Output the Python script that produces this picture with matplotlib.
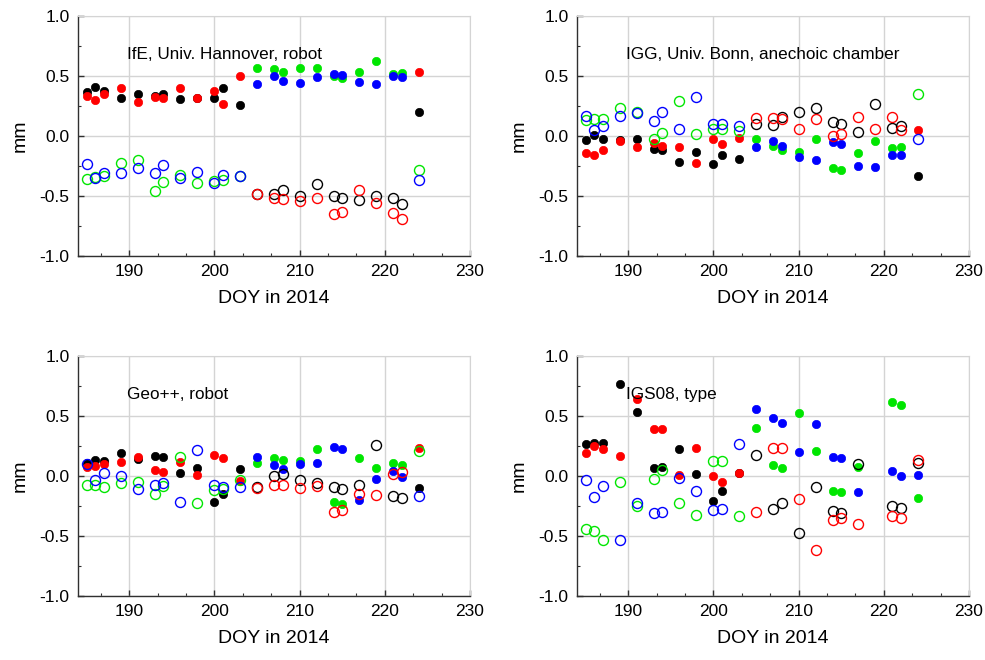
import numpy as np
import matplotlib
matplotlib.use("Agg")
import matplotlib.pyplot as plt
from matplotlib.ticker import MultipleLocator, FormatStrFormatter

plt.rcParams["font.family"] = ["Liberation Sans", "DejaVu Sans"]
plt.rcParams["axes.unicode_minus"] = False

nan = np.nan

# Day of year of each campaign
days = [185, 186, 187, 189, 191, 193, 194, 196, 198, 200, 201, 203,
        205, 207, 208, 210, 212, 214, 215, 217, 219, 221, 222, 224]

# IfE, Univ. Hannover, robot
ife_black = [0.366, 0.408, 0.374, 0.313, 0.352, 0.336, 0.347, 0.308, 0.313, 0.316, 0.400, 0.255,
             -0.485, -0.483, -0.452, -0.497, -0.402, -0.497, -0.513, -0.530, -0.500, -0.519, -0.566, 0.197]
ife_red = [0.333, 0.302, 0.352, 0.400, 0.286, 0.322, 0.319, 0.400, 0.313, 0.374, 0.269, 0.502,
           -0.485, -0.520, -0.524, -0.540, -0.513, -0.652, -0.632, -0.449, -0.555, -0.638, -0.693, 0.533]
ife_green = [-0.358, -0.340, -0.330, -0.222, -0.197, -0.455, -0.386, -0.322, -0.394, -0.374, -0.369, -0.333,
             0.566, 0.560, 0.530, 0.563, 0.569, 0.500, 0.480, 0.535, 0.624, 0.519, 0.524, -0.283]
ife_blue = [-0.233, -0.347, -0.310, -0.310, -0.269, -0.305, -0.239, -0.347, -0.300, -0.388, -0.322, -0.333,
            0.433, 0.500, 0.460, 0.438, 0.488, 0.520, 0.508, 0.449, 0.430, 0.499, 0.488, -0.366]
ife_solid_br = [1, 1, 1, 1, 1, 1, 1, 1, 1, 1, 1, 1, 0, 0, 0, 0, 0, 0, 0, 0, 0, 0, 0, 1]

# IGG, Univ. Bonn, anechoic chamber
igg_black = [-0.030, 0.008, -0.022, -0.030, -0.028, -0.105, -0.114, -0.216, -0.130, -0.233, -0.155, -0.191,
             0.103, 0.094, 0.158, 0.197, 0.236, 0.114, 0.100, 0.030, 0.266, 0.069, 0.086, -0.330]
igg_red = [-0.141, -0.155, -0.117, -0.042, -0.092, -0.061, -0.083, -0.094, -0.227, -0.028, -0.069, -0.017,
           0.150, 0.150, 0.144, 0.061, 0.141, 0.000, 0.017, 0.161, 0.055, 0.155, 0.047, 0.047]
igg_green = [0.130, 0.139, 0.139, 0.236, 0.200, -0.025, 0.028, 0.291, 0.014, 0.058, 0.055, 0.042,
             -0.028, -0.086, -0.119, -0.130, -0.022, -0.269, -0.286, -0.144, -0.039, -0.097, -0.089, 0.347]
igg_blue = [0.169, 0.047, 0.083, 0.169, 0.189, 0.128, 0.197, 0.055, 0.325, 0.103, 0.103, 0.083,
            -0.092, -0.042, -0.080, -0.175, -0.202, -0.053, -0.069, -0.247, -0.258, -0.161, -0.161, -0.022]
igg_solid_br = [1, 1, 1, 1, 1, 1, 1, 1, 1, 1, 1, 1, 0, 0, 0, 0, 0, 0, 0, 0, 0, 0, 0, 1]

# Geo++, robot
geo_black = [0.111, 0.136, 0.125, 0.194, 0.141, 0.166, 0.161, 0.025, 0.064, -0.219, -0.153, 0.055,
             -0.089, 0.000, 0.019, -0.036, -0.058, -0.092, -0.111, -0.078, 0.255, -0.166, -0.180, -0.097]
geo_red = [0.075, 0.086, 0.100, 0.114, 0.158, 0.053, 0.036, 0.117, 0.008, 0.172, 0.150, -0.044,
           -0.100, -0.078, -0.075, -0.097, -0.083, -0.302, -0.283, -0.153, -0.161, 0.017, 0.030, 0.233]
geo_green = [-0.075, -0.075, -0.094, -0.061, -0.053, -0.147, -0.080, 0.161, -0.225, -0.119, -0.105, -0.036,
             0.111, 0.153, 0.130, 0.128, 0.222, -0.219, -0.230, 0.147, 0.069, 0.111, 0.089, 0.208]
geo_blue = [0.097, -0.031, 0.025, 0.003, -0.108, -0.072, -0.061, -0.214, 0.216, -0.078, -0.094, -0.092,
            0.158, 0.094, 0.061, 0.100, 0.111, 0.241, 0.222, -0.197, -0.022, 0.039, -0.008, -0.166]
geo_solid_br = [1, 1, 1, 1, 1, 1, 1, 1, 1, 1, 1, 1, 0, 0, 0, 0, 0, 0, 0, 0, 0, 0, 0, 1]

# IGS08, type
igs_black = [0.269, 0.277, 0.277, 0.768, 0.533, 0.064, 0.078, 0.225, 0.017, -0.208, -0.125, 0.025,
             0.178, -0.275, -0.222, -0.474, -0.094, -0.291, -0.311, 0.100, nan, -0.252, -0.269, 0.111]
igs_red = [0.194, 0.252, 0.225, 0.166, 0.638, 0.391, 0.388, 0.006, 0.233, -0.003, -0.050, 0.028,
           -0.302, 0.236, 0.230, -0.189, -0.616, -0.363, -0.350, -0.400, nan, -0.336, -0.350, 0.133]
igs_green = [-0.444, -0.455, -0.530, -0.050, -0.252, -0.022, 0.047, -0.225, -0.325, 0.128, 0.128, -0.333,
             0.400, 0.092, 0.064, 0.527, 0.208, -0.128, -0.136, 0.075, nan, 0.616, 0.594, -0.186]
igs_blue = [-0.036, -0.175, -0.086, -0.535, -0.222, -0.308, -0.300, -0.017, -0.128, -0.286, -0.275, 0.266,
            0.560, 0.483, 0.438, 0.197, 0.430, 0.161, 0.153, -0.136, nan, 0.044, 0.003, 0.011]
igs_solid_br = [1, 1, 1, 1, 1, 1, 1, 1, 1, 1, 1, 1, 0, 0, 0, 0, 0, 0, 0, 0, 0, 0, 0, 0]

panels = [
    ("IfE, Univ. Hannover, robot", ife_black, ife_red, ife_green, ife_blue, ife_solid_br),
    ("IGG, Univ. Bonn, anechoic chamber", igg_black, igg_red, igg_green, igg_blue, igg_solid_br),
    ("Geo++, robot", geo_black, geo_red, geo_green, geo_blue, geo_solid_br),
    ("IGS08, type", igs_black, igs_red, igs_green, igs_blue, igs_solid_br),
]

colors = {"black": "#000000", "red": "#ff0000", "green": "#00e600", "blue": "#0000ff"}

W, H = 985, 660
fig = plt.figure(figsize=(W / 100, H / 100), dpi=100)

# axes boxes in pixels: left, top, right, bottom
boxes = [(78, 16, 470, 256), (577, 16, 969, 256),
         (78, 356, 470, 596), (577, 356, 969, 596)]

d = np.array(days, dtype=float)
for (title, blk, red, grn, blu, solid_br), (l, t, r, b) in zip(panels, boxes):
    ax = fig.add_axes([l / W, 1 - b / H, (r - l) / W, (b - t) / H])
    solid = np.array(solid_br, dtype=bool)
    series = [("black", blk, solid), ("red", red, solid),
              ("green", grn, ~solid), ("blue", blu, ~solid)]
    # filled markers first, open rings on top
    for name, vals, mask in series:
        v = np.array(vals, dtype=float)
        ax.plot(d[mask], v[mask], linestyle="none", marker="o", ms=6.0,
                mfc=colors[name], mec=colors[name], mew=0.5, zorder=3)
    for name, vals, mask in series:
        v = np.array(vals, dtype=float)
        ax.plot(d[~mask], v[~mask], linestyle="none", marker="o", ms=7.2,
                mfc="none", mec=colors[name], mew=1.0, zorder=4)

    ax.set_xlim(184, 230)
    ax.set_ylim(-1.0, 1.0)
    ax.xaxis.set_major_locator(MultipleLocator(10))
    ax.xaxis.set_minor_locator(MultipleLocator(10 / 3))
    ax.yaxis.set_major_locator(MultipleLocator(0.5))
    ax.yaxis.set_minor_locator(MultipleLocator(0.25))
    ax.yaxis.set_major_formatter(FormatStrFormatter("%.1f"))
    ax.grid(True, which="major", color="#d4d4d4", linewidth=1.0, zorder=0)
    ax.set_axisbelow(True)
    for side in ("top", "right"):
        ax.spines[side].set_color("#d4d4d4")
    for side in ("left", "bottom"):
        ax.spines[side].set_color("#303030")
        ax.spines[side].set_linewidth(1.0)
    ax.tick_params(which="both", direction="in", top=False, right=False,
                   colors="#303030", labelcolor="black", labelsize=12.5)
    ax.tick_params(which="major", length=4, width=1, pad=6)
    ax.tick_params(which="minor", length=2, width=0.8)
    ax.set_xlabel("DOY in 2014", fontsize=14, labelpad=8)
    ax.set_ylabel("mm", fontsize=14, labelpad=8)
    ax.text(189.8, 0.68, title, fontsize=12.3, ha="left", va="center", zorder=5)

fig.savefig("out.png", dpi=100)
